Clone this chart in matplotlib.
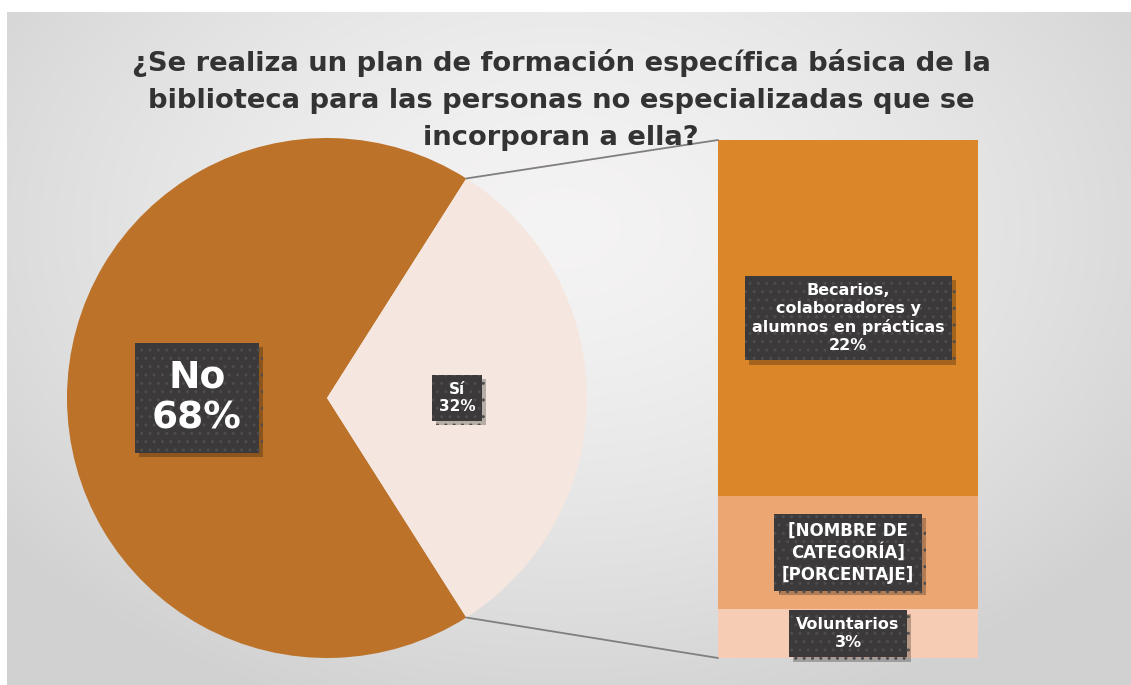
import matplotlib
matplotlib.use("Agg")
import matplotlib.pyplot as plt
import matplotlib.patheffects as pe
import numpy as np
from matplotlib.patches import ConnectionPatch

# Datos
pie_labels = ["No", "Sí"]
pie_values = [68, 32]
pie_colors = ["#BC7229", "#F5E7E0"]

bar_labels = ["Voluntarios", "[NOMBRE DE\nCATEGORÍA]", "Becarios,\ncolaboradores y\nalumnos en prácticas"]
bar_values = [3, 7, 22]
bar_colors = ["#F6CDB4", "#ECA672", "#DB8628"]
bar_pct = ["3%", "[PORCENTAJE]", "22%"]

title = ("¿Se realiza un plan de formación específica básica de la\n"
         "biblioteca para las personas no especializadas que se\n"
         "incorporan a ella?")

W, H = 1131, 685
fig = plt.figure(figsize=(W / 100, H / 100), dpi=100, facecolor="white")

# fondo con degradado
ax = fig.add_axes([0, 0, 1, 1])
yy, xx = np.mgrid[0:H, 0:W]
r = np.sqrt(((xx - 560) / 720.0) ** 2 + ((yy - 220) / 520.0) ** 2)
r = np.clip(r, 0, 1) ** 1.5
light = np.array([0.96, 0.955, 0.955])
dark = np.array([0.82, 0.82, 0.82])
img = light[None, None, :] * (1 - r[..., None]) + dark[None, None, :] * r[..., None]
ax.imshow(img, extent=(7, W, 0, H - 12), origin="upper", zorder=0, aspect="auto")

# pastel
cx, cy, R = 327, H - 398, 260
start = 360 * pie_values[1] / sum(pie_values) / 2
wedges, _ = ax.pie(pie_values, colors=pie_colors, startangle=start, radius=R,
                   center=(cx, cy), counterclock=True, frame=True,
                   wedgeprops=dict(linewidth=0))
for w in wedges:
    w.set_zorder(2)
ax.set_xlim(0, W)
ax.set_ylim(0, H)
ax.set_aspect("auto")
ax.axis("off")

box = dict(boxstyle="square,pad=0.45", facecolor="#3B3939", edgecolor="#4E4C4C",
           linewidth=0, hatch="..")


def label(a, x, y, s, fs, ls):
    t = a.text(x, y, s, ha="center", va="center", color="white",
               fontsize=fs, fontweight="bold", linespacing=ls, bbox=box, zorder=5)
    t.get_bbox_patch().set_path_effects(
        [pe.SimplePatchShadow(offset=(3, -3), shadow_rgbFace="black", alpha=0.25), pe.Normal()])


sizes = [27, 11]
for w, lab, v, fs in zip(wedges, pie_labels, pie_values, sizes):
    ang = np.deg2rad((w.theta1 + w.theta2) / 2)
    x = cx + 0.5 * R * np.cos(ang)
    y = cy + 0.5 * R * np.sin(ang)
    label(ax, x, y, f"{lab}\n{v}%", fs, 1.15)

# barra
ax2 = fig.add_axes([718 / W, (H - 658) / H, 260 / W, 518 / H])
bottoms = np.cumsum([0] + bar_values[:-1])
ax2.bar(0, bar_values, bottom=bottoms, color=bar_colors, width=1, linewidth=0)
ax2.set_xlim(-0.5, 0.5)
ax2.set_ylim(0, sum(bar_values))
ax2.axis("off")
bsizes = [11.5, 12, 11.5]
for b, v, lab, pct, fs in zip(bottoms, bar_values, bar_labels, bar_pct, bsizes):
    label(ax2, 0, b + v / 2, f"{lab}\n{pct}", fs, 1.25)

# lineas de union
si = wedges[1]
for th, yb in [(si.theta2, sum(bar_values)), (si.theta1, 0)]:
    a = np.deg2rad(th)
    p = (cx + R * np.cos(a), cy + R * np.sin(a))
    con = ConnectionPatch(xyA=p, coordsA=ax.transData, xyB=(-0.5, yb),
                          coordsB=ax2.transData, color="#7F7F7F", linewidth=1.3)
    fig.add_artist(con)

fig.text(561, H - 100, title, transform=None, ha="center", va="center",
         fontsize=19.7, fontweight="bold", color="#333333", linespacing=1.55)

fig.savefig("out.png", dpi=100, facecolor="white")
